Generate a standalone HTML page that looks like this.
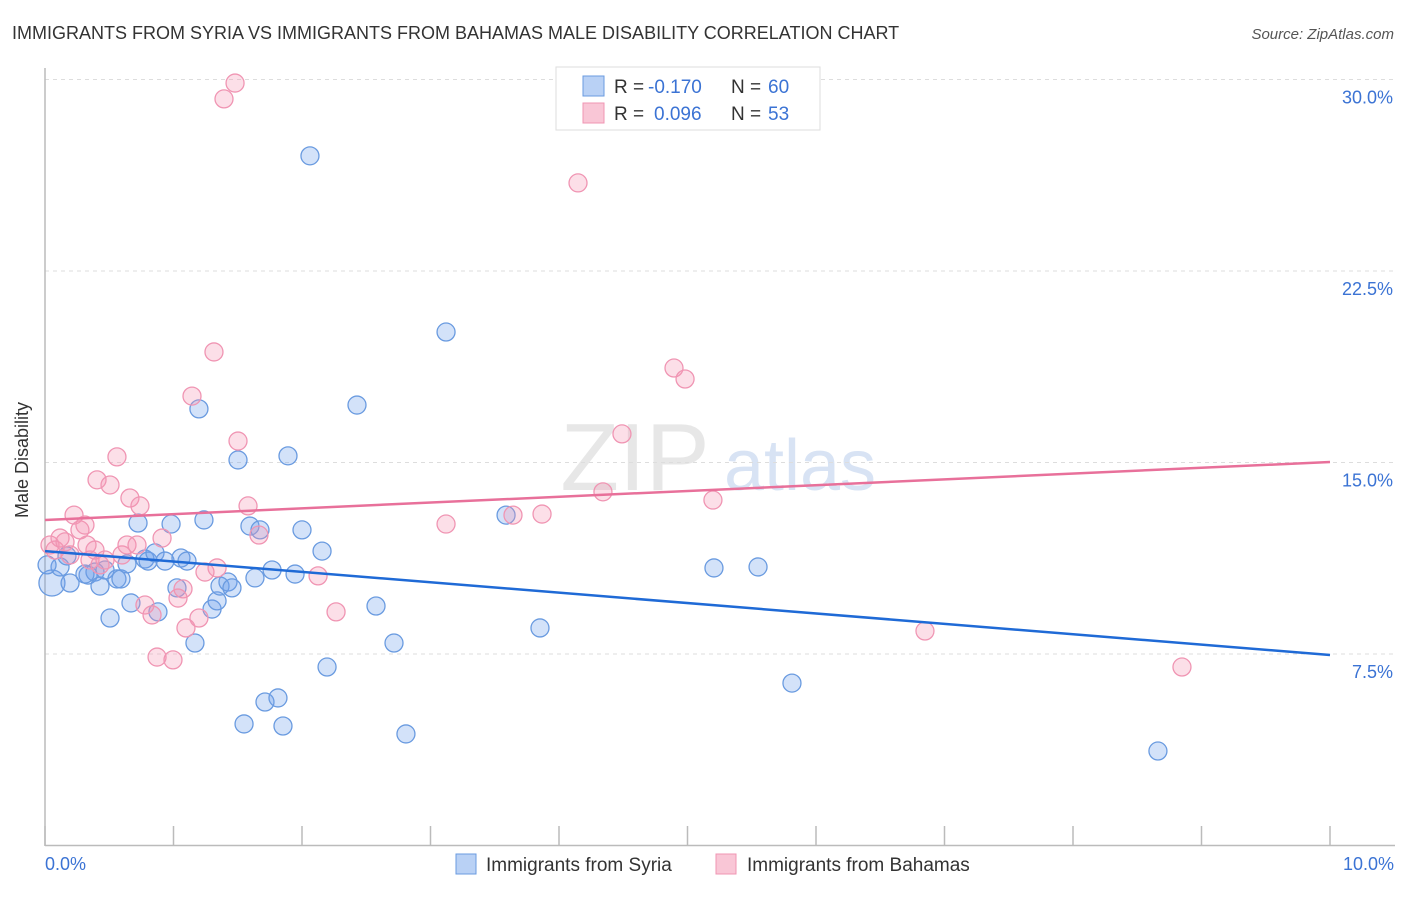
<!DOCTYPE html>
<html><head><meta charset="utf-8"><style>
body{margin:0;background:#fff;font-family:"Liberation Sans",sans-serif;}
svg text{font-family:"Liberation Sans",sans-serif;}
</style></head><body>
<svg width="1406" height="892" xmlns="http://www.w3.org/2000/svg">
<text x="12" y="39" font-size="18" fill="#333">IMMIGRANTS FROM SYRIA VS IMMIGRANTS FROM BAHAMAS MALE DISABILITY CORRELATION CHART</text>
<text x="1394" y="39" font-size="15" fill="#555" font-style="italic" text-anchor="end">Source: ZipAtlas.com</text>
<g>
<text x="635" y="490" font-size="96" fill="#ddd" font-family="Liberation Serif" text-anchor="middle" opacity="0.7">ZIP</text>
<text x="800" y="490" font-size="72" fill="#c8d8f0" text-anchor="middle" opacity="0.7">atlas</text>
</g>
<g id="grid"></g>
<g id="axes"></g>
<g id="pts"></g>
<g id="lines"></g>
<text x="28" y="460" font-size="18" fill="#333" text-anchor="middle" transform="rotate(-90 28 460)">Male Disability</text>
<g>
<rect x="556" y="67" width="264" height="63" fill="#fff" stroke="#ddd"/>
<rect x="583" y="76" width="21" height="20" fill="#b9d1f5" stroke="#6a9be0"/>
<rect x="583" y="103" width="21" height="20" fill="#f9c6d6" stroke="#f095b3"/>
<text x="614" y="93" font-size="19" fill="#333">R =</text>
<text x="648" y="93" font-size="19" fill="#3b73d4">-0.170</text>
<text x="731" y="93" font-size="19" fill="#333">N =</text>
<text x="768" y="93" font-size="19" fill="#3b73d4">60</text>
<text x="614" y="120" font-size="19" fill="#333">R =</text>
<text x="654" y="120" font-size="19" fill="#3b73d4">0.096</text>
<text x="731" y="120" font-size="19" fill="#333">N =</text>
<text x="768" y="120" font-size="19" fill="#3b73d4">53</text>
</g>
<g>
<rect x="456" y="854" width="20" height="20" fill="#b9d1f5" stroke="#6a9be0"/>
<text x="486" y="871" font-size="19" fill="#333">Immigrants from Syria</text>
</g>
<g>
<rect x="716" y="854" width="20" height="20" fill="#f9c6d6" stroke="#f095b3"/>
<text x="747" y="871" font-size="19" fill="#333">Immigrants from Bahamas</text>
</g>
</svg>
<script>
const yTicks=[7.5,15,22.5,30];
const yTickLabels=["7.5%","15.0%","22.5%","30.0%"];
const xTickCount=[0,1,2,3,4,5,6,7,8,9,10];
const syriaX=[0.054,0.117,0.171,0.195,0.335,0.389,0.428,0.467,0.506,0.560,0.591,0.638,0.669,0.724,0.778,0.802,0.856,0.879,0.934,0.981,1.027,1.058,1.105,1.167,1.198,1.237,1.300,1.339,1.362,1.424,1.455,1.502,1.549,1.595,1.634,1.673,1.712,1.767,1.813,1.852,1.891,1.946,2.0,2.062,2.156,2.195,2.428,2.576,2.716,2.809,3.121,3.588,3.852,5.206,5.549,5.813,8.661,0.016,0.311];
const syriaY=[10.28,10.91,11.34,10.28,10.59,10.71,10.16,10.79,8.91,10.44,10.44,11.03,9.50,12.63,11.22,11.14,11.46,9.15,11.14,12.59,10.09,11.26,11.14,7.93,17.10,12.75,9.26,9.58,10.16,10.32,10.09,15.10,4.76,12.51,10.48,12.36,5.62,10.79,5.78,4.68,15.26,10.63,12.36,27.01,11.53,6.99,17.25,9.38,7.93,4.37,20.11,12.94,8.52,10.87,10.91,6.36,3.70,10.99,10.63];
const bahX=[0.039,0.078,0.117,0.156,0.195,0.226,0.272,0.311,0.327,0.350,0.389,0.405,0.428,0.467,0.506,0.560,0.599,0.638,0.661,0.716,0.739,0.778,0.833,0.872,0.911,0.996,1.035,1.074,1.097,1.144,1.198,1.245,1.315,1.339,1.393,1.479,1.502,1.580,1.665,2.125,2.265,3.121,3.642,3.868,4.148,4.342,4.490,4.895,4.981,5.198,6.848,8.848];
const bahY=[11.77,11.57,12.04,11.89,11.38,12.94,12.36,12.55,11.77,11.18,11.57,14.32,10.99,11.18,14.12,15.22,11.38,11.77,13.61,11.77,13.30,9.42,9.03,7.38,12.04,7.27,9.69,10.05,8.52,17.60,8.91,10.71,19.33,10.87,29.24,29.86,15.84,13.30,12.16,10.56,9.15,12.59,12.94,12.98,25.95,13.85,16.12,18.70,18.27,13.53,8.40,6.99];
const syriaTrend=[11.53,7.46];
const bahTrend=[12.75,15.02];
const NS="http://www.w3.org/2000/svg";
const X0=45,X1=1330,Y0=845.5,YS=191.5/7.5;
const xs=v=>X0+(X1-X0)*v/10;
const ys=v=>Y0-v*YS;
function mk(tag,attrs,parent){const e=document.createElementNS(NS,tag);for(const k in attrs)e.setAttribute(k,attrs[k]);parent.appendChild(e);return e;}
const grid=document.getElementById('grid'),axes=document.getElementById('axes'),pts=document.getElementById('pts'),lines=document.getElementById('lines');
yTicks.forEach((t,i)=>{
 const l=mk('line',{x1:45,x2:1395,y1:ys(t),y2:ys(t),stroke:'#ddd','stroke-dasharray':'4,4'},grid);
 
 
 const tx=mk('text',{x:1393,y:ys(t)+24,'font-size':18,fill:'#3b73d4','text-anchor':'end'},grid);
 tx.textContent=yTickLabels[i];
 
 
});
const ax=mk('line',{x1:45,x2:45,y1:68,y2:846,stroke:'#bbb','stroke-width':1.5},axes);


const bx=mk('line',{x1:45,x2:1395,y1:845.5,y2:845.5,stroke:'#bbb','stroke-width':1.5},axes);


xTickCount.forEach(t=>{
 const tk=mk('line',{x1:xs(t),x2:xs(t),y1:826,y2:845.5,stroke:'#bbb','stroke-width':1.5},axes);
 
 
});
const xl0=mk('text',{x:45,y:870,'font-size':18,fill:'#3b73d4'},axes);xl0.textContent='0.0%';


const xl1=mk('text',{x:1394,y:870,'font-size':18,fill:'#3b73d4','text-anchor':'end'},axes);xl1.textContent='10.0%';


syriaX.forEach((v,i)=>{
 const c=mk('circle',{cx:xs(v),cy:ys(syriaY[i]),r:i===0?13:9,fill:'rgba(110,160,235,0.3)',stroke:'#6a9be0','stroke-width':1.3},pts);
 
 
});
bahX.forEach((v,i)=>{
 const c=mk('circle',{cx:xs(v),cy:ys(bahY[i]),r:9,fill:'rgba(245,150,180,0.3)',stroke:'#f095b3','stroke-width':1.3},pts);
 
 
});
const l1=mk('line',{x1:xs(0),x2:xs(10),y1:ys(syriaTrend[0]),y2:ys(syriaTrend[1]),stroke:'#1f6ad6','stroke-width':2.5},lines);


const l2=mk('line',{x1:xs(0),x2:xs(10),y1:ys(bahTrend[0]),y2:ys(bahTrend[1]),stroke:'#e8709a','stroke-width':2.5},lines);


</script>
</body></html>
